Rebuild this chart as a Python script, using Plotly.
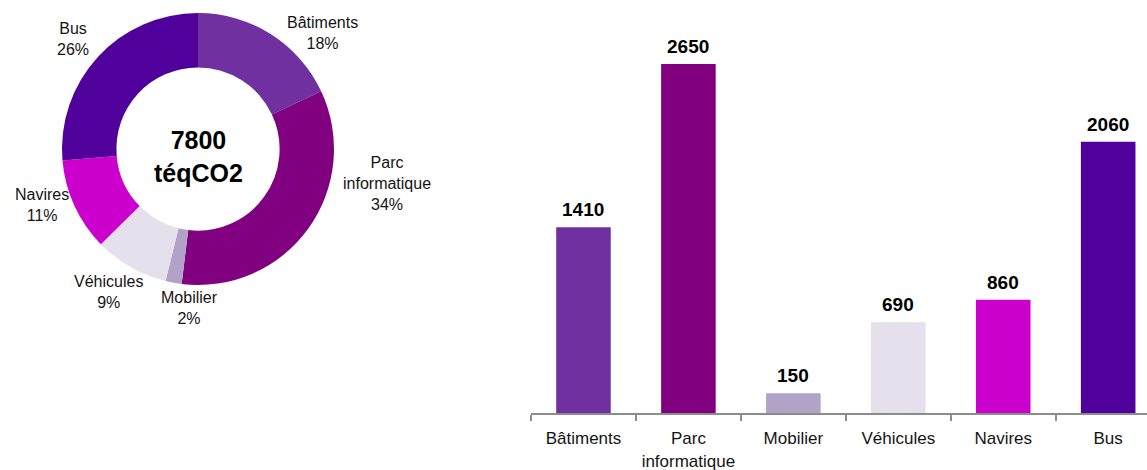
import plotly.graph_objects as go

# Emissions by source (téqCO2)
categories = ["Bâtiments", "Parc informatique", "Mobilier", "Véhicules", "Navires", "Bus"]
tick_labels = ["Bâtiments", "Parc<br>informatique", "Mobilier", "Véhicules", "Navires", "Bus"]
donut_labels = ["Bâtiments", "Parc<br>informatique", "Mobilier", "Véhicules", "Navires", "Bus"]
values = [1410, 2650, 150, 690, 860, 2060]
total_label = "7800<br>téqCO2"
colors = ["#7030A0", "#800080", "#B3A2C7", "#E6E0EC", "#CC00CC", "#50009B"]

W, H = 1147, 470
FONT = "Liberation Sans, Arial, sans-serif"
TEXT = "#141414"

fig = go.Figure()

# Donut of shares
fig.add_trace(go.Pie(
    labels=categories,
    values=values,
    hole=0.6,
    sort=False,
    direction="clockwise",
    rotation=0,
    marker=dict(colors=colors, line=dict(width=0)),
    textinfo="none",
    hoverinfo="label+value+percent",
    showlegend=False,
    domain=dict(x=[62 / W, 334 / W], y=[1 - 285 / H, 1 - 13 / H]),
))

# Bars of absolute values
fig.add_trace(go.Bar(
    x=categories,
    y=values,
    marker=dict(color=colors, line=dict(width=0)),
    width=0.52,
    showlegend=False,
    xaxis="x",
    yaxis="y",
))

annotations = []

# Value labels above the bars
for cat, v in zip(categories, values):
    annotations.append(dict(
        x=cat, y=v, xref="x", yref="y", text=f"<b>{v}</b>",
        showarrow=False, yanchor="bottom", yshift=5,
        font=dict(family=FONT, size=19, color="#000000"),
    ))

# Outside labels of the donut, with rounded shares
total = sum(values)
label_pos = [(322, 33), (387, 183), (189, 308), (108, 292), (42, 205), (73, 39)]
for lab, v, (px, py) in zip(donut_labels, values, label_pos):
    pct = round(v / total * 100)
    annotations.append(dict(
        x=px / W, y=1 - py / H, xref="paper", yref="paper",
        text=f"{lab}<br>{pct}%", showarrow=False,
        xanchor="center", yanchor="middle", align="center",
        font=dict(family=FONT, size=16, color=TEXT),
    ))

# Total in the donut hole
annotations.append(dict(
    x=198 / W, y=1 - 156 / H, xref="paper", yref="paper",
    text=f"<b>{total_label}</b>", showarrow=False,
    xanchor="center", yanchor="middle", align="center",
    font=dict(family=FONT, size=25, color="#000000"),
))

fig.update_layout(
    width=W, height=H,
    margin=dict(l=0, r=0, t=0, b=0),
    paper_bgcolor="white",
    plot_bgcolor="white",
    xaxis=dict(
        domain=[531 / W, 1],
        range=[-0.5, 5.37],
        tickmode="array",
        tickvals=categories,
        ticktext=tick_labels,
        tickson="boundaries",
        ticks="outside",
        ticklen=6,
        tickcolor="#8c8c8c",
        tickwidth=1.5,
        ticklabelstandoff=9,
        showline=True,
        linecolor="#8c8c8c",
        linewidth=2,
        showgrid=False,
        zeroline=False,
        automargin=False,
        tickfont=dict(family=FONT, size=17, color=TEXT),
        fixedrange=True,
    ),
    yaxis=dict(
        domain=[57 / H, 1 - 20 / H],
        range=[0, 2984],
        visible=False,
        showgrid=False,
        zeroline=False,
        fixedrange=True,
    ),
    annotations=annotations,
)

fig.write_html("out.html")
